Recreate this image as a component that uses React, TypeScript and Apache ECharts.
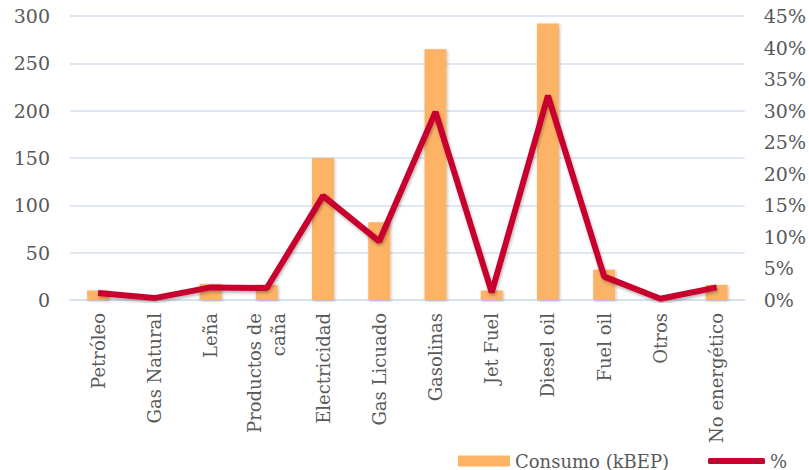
import React, { useEffect, useRef } from "react";
import * as echarts from "echarts";

const categories = [
  "Petróleo",
  "Gas Natural",
  "Leña",
  "Productos de\ncaña",
  "Electricidad",
  "Gas Licuado",
  "Gasolinas",
  "Jet Fuel",
  "Diesel oil",
  "Fuel oil",
  "Otros",
  "No energético",
];
const consumo = [10, 0, 17, 16, 150, 82, 265, 10, 292, 32, 0, 16];
const porcentaje = [1.1, 0.3, 2.0, 1.9, 16.5, 9.3, 29.8, 1.2, 32.4, 3.7, 0.2, 2.0];

const FONT = "DejaVu Serif";
const TEXT = "#595959";
const GRID = "#D5DFEF";

export default function App() {
  const ref = useRef<HTMLDivElement>(null);
  useEffect(() => {
    if (!ref.current) return;
    const chart = echarts.init(ref.current, undefined, { renderer: "svg" });
    chart.setOption({
      animation: false,
      textStyle: { fontFamily: FONT, color: TEXT },
      grid: { left: 70, right: 62, top: 16, bottom: 170 },
      legend: [
        {
          top: 447,
          left: 453,
          itemWidth: 52,
          itemHeight: 11,
          itemGap: 4,
          textStyle: { fontFamily: FONT, fontSize: 18, color: TEXT },
          data: [{ name: "Consumo (kBEP)", icon: "rect" }],
        },
        {
          top: 447,
          left: 703,
          itemWidth: 57,
          itemHeight: 6,
          textStyle: { fontFamily: FONT, fontSize: 18, color: TEXT },
          data: [{ name: "%", icon: "roundRect" }],
        },
      ],
      xAxis: {
        type: "category",
        data: categories,
        axisTick: { show: false },
        axisLine: { lineStyle: { color: GRID, width: 1.5 } },
        axisLabel: {
          rotate: 90,
          interval: 0,
          margin: 13,
          fontFamily: FONT,
          fontSize: 18,
          color: TEXT,
          lineHeight: 24,
        },
      },
      yAxis: [
        {
          type: "value",
          min: 0,
          max: 300,
          interval: 50,
          axisLabel: { fontFamily: FONT, fontSize: 19, color: TEXT, margin: 20 },
          splitLine: { lineStyle: { color: GRID, width: 1.5 } },
          axisLine: { show: false },
        },
        {
          type: "value",
          min: 0,
          max: 45,
          interval: 5,
          axisLabel: {
            fontFamily: FONT,
            fontSize: 19,
            color: TEXT,
            margin: 19,
            formatter: "{value}%",
          },
          splitLine: { show: false },
          axisLine: { show: false },
        },
      ],
      series: [
        {
          name: "Consumo (kBEP)",
          type: "bar",
          data: consumo,
          barWidth: 22,
          itemStyle: {
            color: "#FDB366",
            shadowColor: "rgba(0,0,0,0.25)",
            shadowBlur: 3,
            shadowOffsetX: 1,
            shadowOffsetY: 1,
          },
        },
        {
          name: "%",
          type: "line",
          yAxisIndex: 1,
          data: porcentaje,
          showSymbol: false,
          symbol: "none",
          lineStyle: {
            color: "#C8002F",
            width: 6,
            shadowColor: "rgba(0,0,0,0.3)",
            shadowBlur: 3,
            shadowOffsetX: 1,
            shadowOffsetY: 2,
          },
          itemStyle: { color: "#C8002F" },
        },
      ],
    });
    return () => chart.dispose();
  }, []);
  return <div ref={ref} style={{ width: 809, height: 470, position: "absolute", left: 0, top: 0 }} />;
}
